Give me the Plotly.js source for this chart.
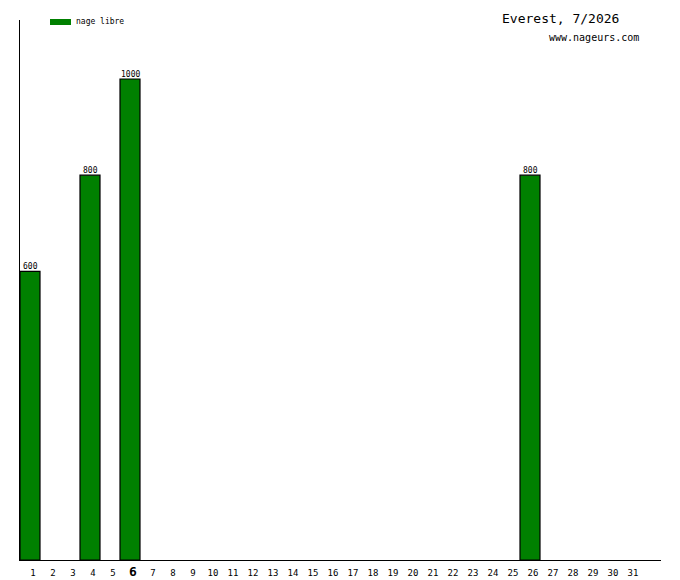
<!DOCTYPE html>
<html>
<head>
<meta charset="utf-8">
<script src="https://cdn.plot.ly/plotly-3.0.1.min.js"></script>
<style>
  body { margin: 0; background: #fff; }
  #plot { width: 680px; height: 580px; }
</style>
</head>
<body>
<div id="plot"></div>
<script>
// Days of the month and distance swum (metres)
let days = [];
for (let d = 1; d <= 31; d++) days.push(d);
let bar_days = [1, 4, 6, 26];
let bar_values = [600, 800, 1000, 800];
let series_name = "nage libre";
let today = 6;
let chart_title = "Everest, 7/2026";
let chart_site = "www.nageurs.com";

// Tick labels, with the current day highlighted
let tick_labels = days.map(d => d == today ? "<b><span style='font-size:13px'>" + d + "</span></b>" : String(d));

let mono = "DejaVu Sans Mono, monospace";
let green = "#008000";

let data = [{
  type: "bar",
  x: bar_days,
  y: bar_values,
  name: series_name,
  width: 1,
  marker: {
    color: green,
    line: { color: "#000", width: 1.2 }
  },
  hoverinfo: "x+y",
  showlegend: false
}];

// Value labels sitting on top of each bar
let value_labels = bar_days.map((d, i) => ({
  x: d,
  y: bar_values[i],
  xref: "x", yref: "y",
  text: String(bar_values[i]),
  showarrow: false,
  xanchor: "center", yanchor: "bottom",
  borderpad: 0,
  yshift: -1,
  font: { family: mono, size: 8, color: "#000" }
}));

let layout = {
  width: 680,
  height: 580,
  paper_bgcolor: "#fff",
  plot_bgcolor: "#fff",
  margin: { l: 20, r: 19, t: 20, b: 20 },
  showlegend: false,
  xaxis: {
    range: [0.5, 32.55],
    tickmode: "array",
    tickvals: days,
    ticktext: tick_labels,
    ticks: "",
    ticklabelshift: 3,
    ticklabelstandoff: 4,
    tickfont: { family: mono, size: 9, color: "#000" },
    showgrid: false,
    zeroline: false,
    showline: true,
    linecolor: "#000",
    linewidth: 1,
    fixedrange: true
  },
  yaxis: {
    range: [0, 1122.7],
    showticklabels: false,
    ticks: "",
    showgrid: false,
    zeroline: false,
    showline: true,
    linecolor: "#000",
    linewidth: 1,
    fixedrange: true
  },
  // Legend swatch drawn by hand, as in the original image
  shapes: [{
    type: "rect",
    xref: "paper", yref: "paper",
    x0: 30 / 641, x1: 51 / 641,
    y0: 1 - 5 / 540, y1: 1 + 1 / 540,
    fillcolor: green,
    line: { width: 0 }
  }],
  annotations: value_labels.concat([
    {
      xref: "paper", yref: "paper",
      x: 55 / 641, y: 1 - 2 / 540,
      xanchor: "left", yanchor: "middle",
      text: series_name,
      showarrow: false,
      borderpad: 0,
      font: { family: mono, size: 8, color: "#000" }
    },
    {
      xref: "paper", yref: "paper",
      x: 1.0, y: 1.0,
      xanchor: "right", yanchor: "middle",
      xshift: -40, yshift: 2,
      text: chart_title,
      showarrow: false,
      font: { family: mono, size: 13, color: "#000" }
    },
    {
      xref: "paper", yref: "paper",
      x: 1.0, y: 1.0,
      xanchor: "right", yanchor: "middle",
      xshift: -20, yshift: -17,
      text: chart_site,
      showarrow: false,
      font: { family: mono, size: 10, color: "#000" }
    }
  ]),
  bargap: 0
};

Plotly.newPlot("plot", data, layout, { displayModeBar: false, staticPlot: true });
</script>
</body>
</html>
